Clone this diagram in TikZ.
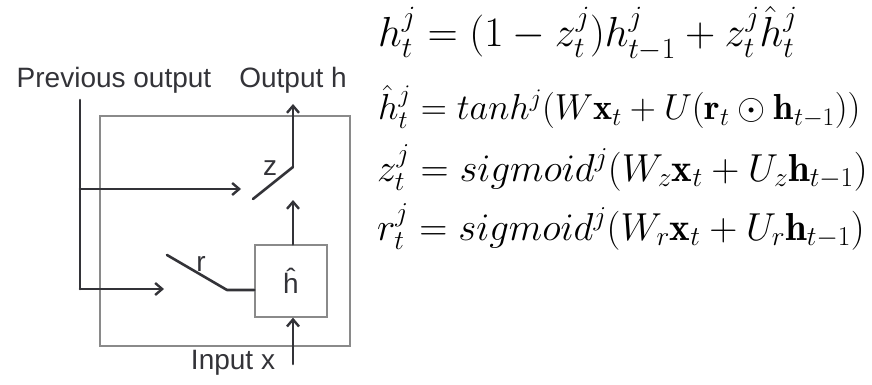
\RequirePackage{fix-cm}
\documentclass[tikz,border=0pt]{standalone}
\usepackage{amsmath}
\usepackage{amssymb}
\usepackage{fontspec}
\setsansfont{Liberation Sans}
\usepackage{xcolor}
\usepackage{tikz}
\usetikzlibrary{calc,arrows.meta}
\definecolor{ink}{HTML}{333338}
\definecolor{frame}{HTML}{8A8A8A}

\begin{document}
\begin{tikzpicture}[x=1pt, y=-1pt,
  wire/.style = {ink, line width=2.6pt, line cap=round, line join=round},
  arr/.style  = {wire, -{Straight Barb[length=7pt, width=12pt, line width=2.4pt]}},
  lbl/.style  = {text=ink, font=\sffamily\fontsize{28}{30}\selectfont, inner sep=0pt},
  eqn/.style  = {text=black, anchor=base west, inner sep=0pt}]
\useasboundingbox (0,0) rectangle (872,385);
\coordinate (P0) at (80,100);
\coordinate (P1) at (80,189);
\coordinate (P2) at (80,289);
\coordinate (Z0) at (253,199);
\coordinate (Z1) at (293,167);
\coordinate (R0) at (167,255);
\coordinate (R1) at (227,290);
\coordinate (X0) at (293,364);
\draw[frame, line width=1.3pt] (100,116) rectangle (350,346);
\node[draw = frame, line width=1.3pt, minimum size = 72pt, lbl] (hh) at (291,281) {\^h};
\node[lbl] (prev) at (114,80) {Previous output};
\node[lbl] (out)  at (293,80) {Output h};
\node[lbl] (inx)  at (233,363) {Input x};
\node[lbl] (zl)   at (270,168) {z};
\node[lbl] (rl)   at (201,264) {r};
\draw[wire] (P0)--(P2);
\draw[arr]  (P1)--(241,189);
\draw[arr]  (P2)--(164,289);
\draw[wire] (Z0)--(Z1);
\draw[arr]  (Z1)--(293,104);
\draw[arr]  (hh.north -| Z1)--(293,200);
\draw[wire] (R0)--(R1)--(hh.west |- R1);
\draw[arr]  (X0)--(hh.south -| X0);
\node[eqn, font=\fontsize{42}{48}\selectfont] (e1) at (378,47)
  {$h_t^j = (1 - z_t^j)h_{t-1}^j + z_t^j\hat{h}_t^j$};
\node[eqn, font=\fontsize{36.2}{42}\selectfont] (e2) at (378,120)
  {$\hat{h}_t^j = tanh^j(W\mathbf{x}_t + U(\mathbf{r}_t \odot \mathbf{h}_{t-1}))$};
\node[eqn, font=\fontsize{39}{45}\selectfont] (e3) at (377,181)
  {$z_t^j = sigmoid^j(W_z\mathbf{x}_t + U_z\mathbf{h}_{t-1})$};
\node[eqn, font=\fontsize{39}{45}\selectfont] (e4) at (377,240)
  {$r_t^j = sigmoid^j(W_r\mathbf{x}_t + U_r\mathbf{h}_{t-1})$};
\end{tikzpicture}
\end{document}
